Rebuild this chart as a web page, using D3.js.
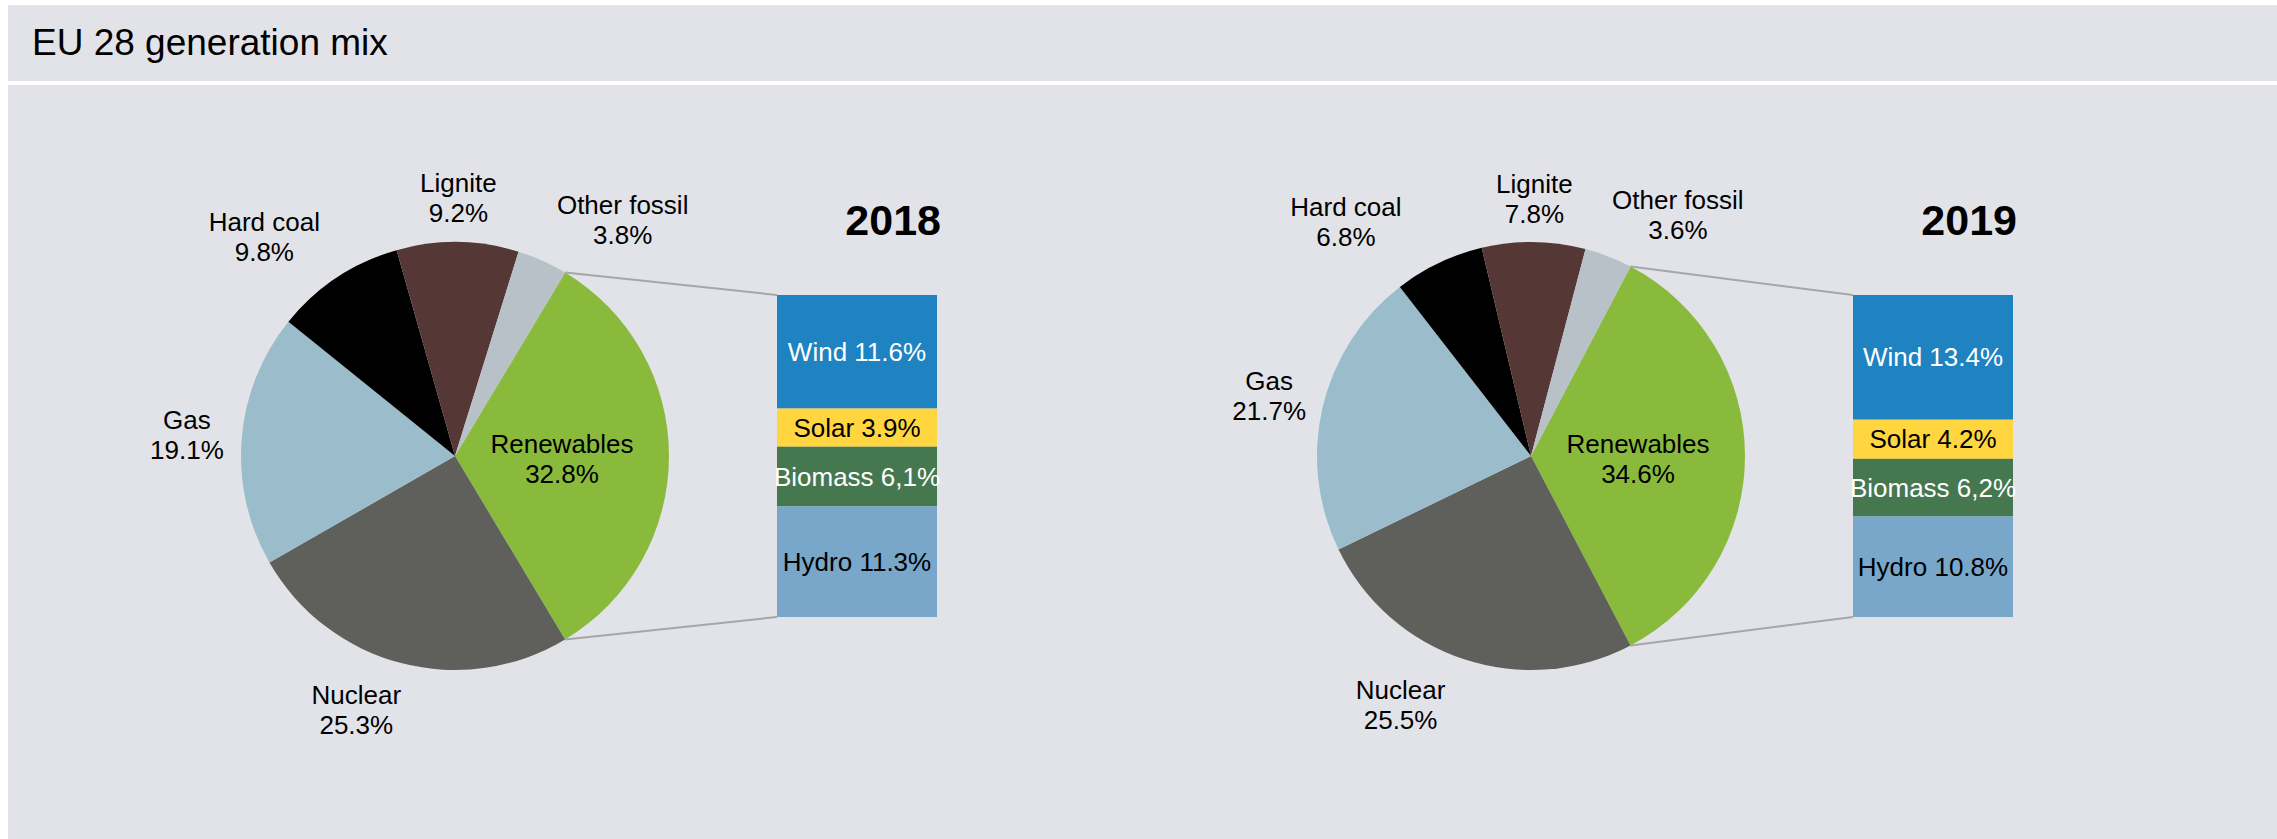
<!DOCTYPE html>
<html>
<head>
<meta charset="utf-8">
<script src="https://cdn.jsdelivr.net/npm/d3@7"></script>
<style>
  body { margin: 0; background: #fff; }
  svg { display: block; font-family: "Liberation Sans", Arial, sans-serif; }
</style>
</head>
<body>
<div id="root"></div>
<script>
// generation mix, share of EU 28 generation in %
const fuels = ["Renewables", "Nuclear", "Gas", "Hard coal", "Lignite", "Other fossil"];
const share2018 = [32.8, 25.3, 19.1, 9.8, 9.2, 3.8];
const share2019 = [34.6, 25.5, 21.7, 6.8, 7.8, 3.6];

// renewables split (bar of pie)
const renewTypes = ["Wind", "Solar", "Biomass", "Hydro"];
const renew2018 = [11.6, 3.9, 6.1, 11.3];
const renew2019 = [13.4, 4.2, 6.2, 10.8];
const renewText2018 = ["11.6%", "3.9%", "6,1%", "11.3%"];
const renewText2019 = ["13.4%", "4.2%", "6,2%", "10.8%"];

const fuelColors = ["#8aba3c", "#5f605b", "#9bbccb", "#000000", "#553835", "#b8c1c8"];
const renewColors = ["#1f82c1", "#ffd640", "#46784f", "#78a7ca"];
const renewTextColors = ["#fff", "#000", "#fff", "#000"];

// hand moved labels, like in the original sheet
const nudge2018 = [[0, 3], [-29, 0], [0, 0], [-32, 0], [0, 4], [46, 3]];
const nudge2019 = [[0, 3], [-44, 0], [0, 0], [-61, 2], [0, 5], [39, 3]];

const W = 2277, H = 839;
const svg = d3.select("#root").append("svg")
  .attr("width", W)
  .attr("height", H);

svg.append("rect").attr("width", W).attr("height", H).attr("fill", "#fff");
svg.append("rect").attr("x", 8).attr("y", 5).attr("width", W - 8).attr("height", 76).attr("fill", "#e2e3e8");
svg.append("rect").attr("x", 8).attr("y", 85).attr("width", W - 8).attr("height", H - 85).attr("fill", "#e2e3e8");

svg.append("text")
  .attr("x", 32)
  .attr("y", 55)
  .attr("font-size", 37)
  .attr("fill", "#000")
  .text("EU 28 generation mix");

const r = 214, cy = 456;
const labelSize = 26;

const drawMix = (cx, shares, renew, renewText, year, nudge) => {
  // renewables slice is centred at 3 o'clock, like Excel's pie of pie
  const a0 = Math.PI / 2 - shares[0] / 100 * Math.PI;
  const pie = d3.pie().sort(null).value(d => d.v)
    .startAngle(a0).endAngle(a0 + 2 * Math.PI);
  const arcs = pie(fuels.map((f, i) => ({ name: f, v: shares[i] })));
  const arc = d3.arc().innerRadius(0).outerRadius(r);

  const g = svg.append("g").attr("transform", "translate(" + cx + "," + cy + ")");

  g.selectAll("path")
    .data(arcs)
    .join("path")
    .attr("d", arc)
    .attr("fill", (d, i) => fuelColors[i]);

  // bar of renewables
  const barX = cx + 322, barW = 160;
  const y = d3.scaleLinear().domain([0, d3.sum(renew)]).range([295, 617]);
  let acc = 0;
  const stack = renew.map((v, i) => {
    const s = { i: i, y0: acc, y1: acc + v };
    acc += v;
    return s;
  });

  // connector lines
  const ren = arcs[0];
  const pt = a => [cx + r * Math.sin(a), cy - r * Math.cos(a)];
  const p0 = pt(ren.startAngle), p1 = pt(ren.endAngle);
  svg.append("line")
    .attr("x1", p0[0]).attr("y1", p0[1])
    .attr("x2", barX).attr("y2", y(0))
    .attr("stroke", "#a6a6a6").attr("stroke-width", 2);
  svg.append("line")
    .attr("x1", p1[0]).attr("y1", p1[1])
    .attr("x2", barX).attr("y2", y(acc))
    .attr("stroke", "#a6a6a6").attr("stroke-width", 2);

  svg.selectAll(null)
    .data(stack)
    .join("rect")
    .attr("x", barX)
    .attr("y", d => y(d.y0))
    .attr("width", barW)
    .attr("height", d => y(d.y1) - y(d.y0))
    .attr("fill", d => renewColors[d.i]);

  svg.selectAll(null)
    .data(stack)
    .join("text")
    .attr("x", barX + barW / 2)
    .attr("y", d => (y(d.y0) + y(d.y1)) / 2)
    .attr("dy", "0.35em")
    .attr("text-anchor", "middle")
    .attr("font-size", 26)
    .attr("fill", d => renewTextColors[d.i])
    .text(d => renewTypes[d.i] + " " + renewText[d.i]);

  // year
  svg.append("text")
    .attr("x", barX + barW + 4)
    .attr("y", 235)
    .attr("text-anchor", "end")
    .attr("font-size", 43)
    .attr("font-weight", "bold")
    .text(year);

  // slice labels
  arcs.forEach((d, i) => {
    const t = g.append("text")
      .attr("text-anchor", "middle")
      .attr("font-size", labelSize)
      .attr("fill", "#000");
    t.append("tspan").attr("x", 0).attr("y", -6).text(fuels[i]);
    t.append("tspan").attr("x", 0).attr("y", 24).text(shares[i].toFixed(1) + "%");
    let px, py;
    if (i === 0) {
      [px, py] = arc.centroid(d);
    } else {
      const m = (d.startAngle + d.endAngle) / 2;
      const bb = t.node().getBBox();
      const pad = 18;
      px = (r + pad) * Math.sin(m) + bb.width / 2 * Math.sin(m);
      py = -(r + pad) * Math.cos(m) - bb.height / 2 * Math.cos(m);
    }
    t.attr("transform", "translate(" + (px + nudge[i][0]) + "," + (py + nudge[i][1]) + ")");
  });
};

drawMix(455, share2018, renew2018, renewText2018, "2018", nudge2018);
drawMix(1531, share2019, renew2019, renewText2019, "2019", nudge2019);
</script>
</body>
</html>
